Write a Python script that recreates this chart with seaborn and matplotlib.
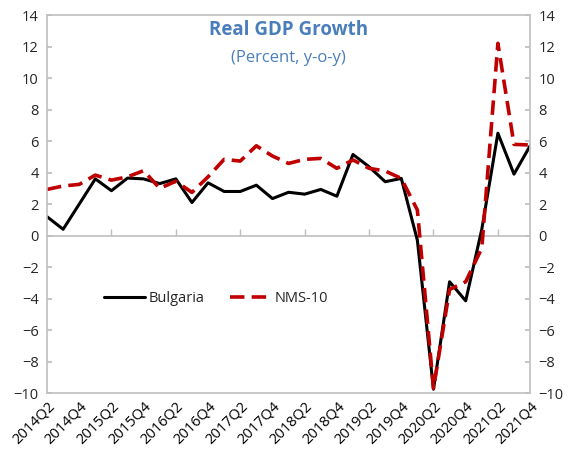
import numpy as np
import pandas as pd
import matplotlib
matplotlib.use("Agg")
import matplotlib.pyplot as plt
import seaborn as sns

quarters = ["2014Q2", "2014Q3", "2014Q4", "2015Q1", "2015Q2", "2015Q3", "2015Q4", "2016Q1",
            "2016Q2", "2016Q3", "2016Q4", "2017Q1", "2017Q2", "2017Q3", "2017Q4", "2018Q1",
            "2018Q2", "2018Q3", "2018Q4", "2019Q1", "2019Q2", "2019Q3", "2019Q4", "2020Q1",
            "2020Q2", "2020Q3", "2020Q4", "2021Q1", "2021Q2", "2021Q3", "2021Q4"]
bulgaria = [1.2, 0.4, 2.0, 3.6, 2.85, 3.65, 3.6, 3.3, 3.6, 2.1, 3.35, 2.8, 2.8, 3.2, 2.35, 2.75,
            2.63, 2.93, 2.5, 5.15, 4.37, 3.42, 3.63, -0.3, -9.75, -2.93, -4.14, 0.4, 6.5, 3.9, 5.7]
nms10 = [2.93, 3.15, 3.25, 3.84, 3.52, 3.73, 4.12, 3.0, 3.45, 2.74, 3.73, 4.84, 4.73, 5.7, 5.05,
         4.58, 4.84, 4.9, 4.27, 4.8, 4.27, 4.1, 3.63, 1.62, -9.7, -3.42, -2.93, -0.8, 12.2, 5.79, 5.75]

df = pd.DataFrame({"idx": np.arange(len(quarters)), "Bulgaria": bulgaria, "NMS-10": nms10})

sns.set_theme(style="white")
plt.rcParams["font.family"] = ["Open Sans", "DejaVu Sans"]

fig, ax = plt.subplots(figsize=(5.7, 4.62), dpi=100)
fig.subplots_adjust(left=0.0825, right=0.93, top=0.9675, bottom=0.149)

sns.lineplot(data=df, x="idx", y="Bulgaria", ax=ax, color="black", linewidth=2.2, label="Bulgaria")
sns.lineplot(data=df, x="idx", y="NMS-10", ax=ax, color="#C00000", linewidth=2.6,
             linestyle=(0, (4, 2)), label="NMS-10")

ax.set_xlim(0, len(quarters) - 1)
ax.set_ylim(-10, 14)
ax.set_yticks(range(-10, 15, 2))
ax.set_xticks(df["idx"][::2])
ax.set_xticklabels(quarters[::2], rotation=45, ha="right", rotation_mode="anchor")
ax.set_xlabel("")
ax.set_ylabel("")
ax.tick_params(axis="x", length=0, pad=4, labelsize=10.5, colors="black")
ax.tick_params(axis="y", direction="in", length=3.5, color="#BFBFBF", labelsize=10.5,
               right=True, left=True, labelright=True, labelleft=True, pad=6)
for sp in ax.spines.values():
    sp.set_color("#BFBFBF")
    sp.set_linewidth(1.2)

# category axis crossing at zero
zero = ax.secondary_xaxis(10 / 24)
zero.set_xticks(df["idx"][4::4])
zero.tick_params(direction="in", length=5, color="#BFBFBF", labelbottom=False, width=1)
zero.spines["bottom"].set_color("#BFBFBF")
zero.spines["bottom"].set_linewidth(1.2)

ax.text(0.5, 0.96, "Real GDP Growth", transform=ax.transAxes, ha="center", va="center",
        fontsize=13.5, fontweight="bold", color="#4A7EBB")
ax.text(0.5, 0.886, "(Percent, y-o-y)", transform=ax.transAxes, ha="center", va="center",
        fontsize=12, color="#4A7EBB")

ax.legend(loc="center", bbox_to_anchor=(0.35, 0.25), ncol=2, frameon=False, fontsize=10.5,
          handlelength=2.8, columnspacing=1.7, handletextpad=0.3)

fig.savefig("out.png", dpi=100)
